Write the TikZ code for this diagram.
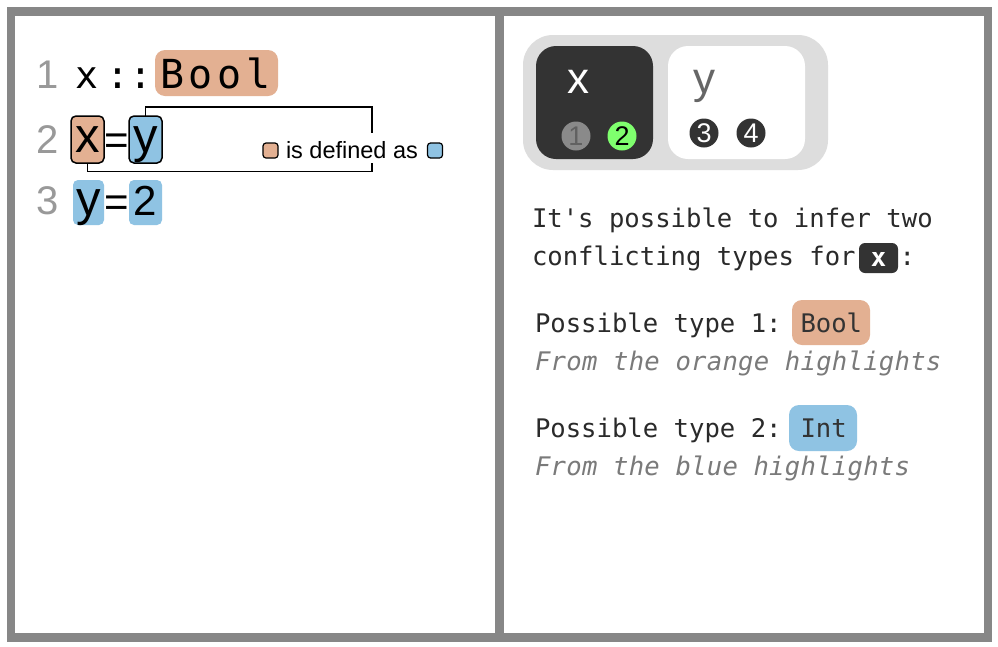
\documentclass[tikz,border=0pt]{standalone}
\usepackage{fontspec}
\setmainfont{Liberation Sans}
\setmonofont{DejaVu Sans Mono}
\definecolor{frameC}{HTML}{878787}
\definecolor{orangeC}{HTML}{E3B092}
\definecolor{blueC}{HTML}{8FC3E3}
\definecolor{darkC}{HTML}{333333}
\definecolor{panelC}{HTML}{DDDDDD}
\definecolor{greenC}{HTML}{7FFF6E}
\definecolor{numC}{HTML}{999999}
\definecolor{textC}{HTML}{2A2A2A}
\definecolor{noteC}{HTML}{7A7A7A}
\newcommand\fsz[1]{\fontsize{#1}{#1}\selectfont}
\begin{document}
\begin{tikzpicture}[x=1pt,y=-1pt,
  txt/.style={inner sep=0pt, outer sep=0pt},
  hbox/.style={inner sep=0pt, outer sep=0pt, rounded corners=#1},
  hbox/.default=5,
  circ/.style={circle, inner sep=0pt, outer sep=0pt, minimum size=29, font=\fsz{27}},
  linenum/.style={txt, text=numC, font=\fsz{40}, anchor=base},
  codeL/.style={txt, font=\fsz{49}, anchor=base},
  codeD/.style={txt, font=\fsz{42}, anchor=base},
  mono/.style={txt, text=textC, font=\ttfamily\fsz{25.6}, anchor=base west},
  note/.style={txt, text=noteC, font=\ttfamily\itshape\fsz{25.6}\addfontfeature{LetterSpace=1}, anchor=base west},
]
\useasboundingbox (0,0) rectangle (998,646);
\fill[white] (0,0) rectangle (998,646);

% frame
\draw[frameC, line width=8.5] (11,11.5) rectangle (988,637.5);
\draw[frameC, line width=9] (499.5,11.5) -- (499.5,637.5);

% ---------- left panel ----------
\node[linenum] (n1) at (48,88) {1};
\node[linenum] (n2) at (48,153) {2};
\node[linenum] (n3) at (48,214) {3};

% line 1
\node[txt, font=\ttfamily\fsz{38}, anchor=base] (l1x) at (87,88) {x};
\node[txt, font=\ttfamily\fsz{38}, anchor=base] (l1c) at (129.5,88) {::};
\node[hbox=10, fill=orangeC, minimum width=123, minimum height=46] (boolL) at (216.5,73) {};
\node[txt, font=\ttfamily\fsz{40}\addfontfeature{LetterSpace=12}, anchor=base west] (boolT) at (160,88) {Bool};

% line 2
\node[hbox=5, fill=orangeC, draw=black, line width=1.5, minimum width=33, minimum height=47] (x2) at (87.5,139.5) {};
\node[hbox=5, fill=blueC, draw=black, line width=1.5, minimum width=33, minimum height=47] (y2) at (145.5,139.5) {};
\node[codeL] (x2t) at (87.5,152) {x};
\node[codeD] (eq2) at (116.5,154) {=};
\node[codeL] (y2t) at (145.5,152) {y};

% line 3
\node[hbox=5, fill=blueC, minimum width=31, minimum height=45] (y3) at (88.5,202.5) {};
\node[hbox=5, fill=blueC, minimum width=33, minimum height=45] (d3) at (145.5,202.5) {};
\node[codeL] (y3t) at (88.5,215) {y};
\node[codeD] (eq3) at (116.5,216) {=};
\node[codeD] (d3t) at (145.5,215) {2};

% bracket
\coordinate (bt) at (372,133);
\coordinate (bb) at (372,163);
\draw[line width=1.9] (y2.north) -- ++(0,-9) -| (bt);
\draw[line width=1.9] (x2.south) -- ++(0,8.5) -| (bb);

% legend
\node[hbox=3, fill=orangeC, draw=black, line width=1.2, minimum width=15, minimum height=15] (lgO) at (270.5,150.5) {};
\node[txt, font=\fsz{23.5}, anchor=base west] (lgT) at (286,158) {is defined as};
\node[hbox=3, fill=blueC, draw=black, line width=1.2, minimum width=15, minimum height=15] (lgB) at (435,150.5) {};

% ---------- right panel ----------
\node[hbox=30, fill=panelC, minimum width=305, minimum height=135] (panel) at (675.5,102.5) {};
\node[hbox=20, fill=darkC, minimum width=117, minimum height=113] (boxX) at (594.5,102.5) {};
\node[hbox=20, fill=white, minimum width=137, minimum height=113] (boxY) at (736.5,102.5) {};
\node[txt, text=white, font=\fsz{44}, anchor=base] (vx) at (578,93) {x};
\node[txt, text=black!60, font=\fsz{44}, anchor=base] (vy) at (704,93) {y};
\node[circ, fill=black!46, text=black!62] (c1) at (576,136) {1};
\node[circ, fill=greenC, text=black] (c2) at (622,136) {2};
\node[circ, fill=darkC, text=white] (c3) at (704,133) {3};
\node[circ, fill=darkC, text=white] (c4) at (751,133) {4};

% explanation
\node[mono] (t1) at (532,227) {It's possible to infer two};
\node[mono] (t2) at (532,265) {conflicting types for};
\node[hbox=6, fill=darkC, minimum width=39, minimum height=30] (xb) at (878.5,258) {};
\node[txt, text=white, font=\ttfamily\bfseries\fsz{25.6}, anchor=base] (xbt) at (878.5,266) {x};
\node[mono] (t2c) at (899.5,265) {:};

\node[mono] (p1) at (535,332) {Possible type 1:};
\node[hbox=10, fill=orangeC, minimum width=78, minimum height=45] (b1) at (831,322.5) {};
\node[mono, text=darkC] (b1t) at (800.5,332) {Bool};
\node[note] (h1) at (535,370) {From the orange highlights};

\node[mono] (p2) at (535,437) {Possible type 2:};
\node[hbox=10, fill=blueC, minimum width=68, minimum height=46] (b2) at (823,428) {};
\node[mono, text=darkC] (b2t) at (800.5,437) {Int};
\node[note] (h2) at (535,475) {From the blue highlights};
\end{tikzpicture}
\end{document}
